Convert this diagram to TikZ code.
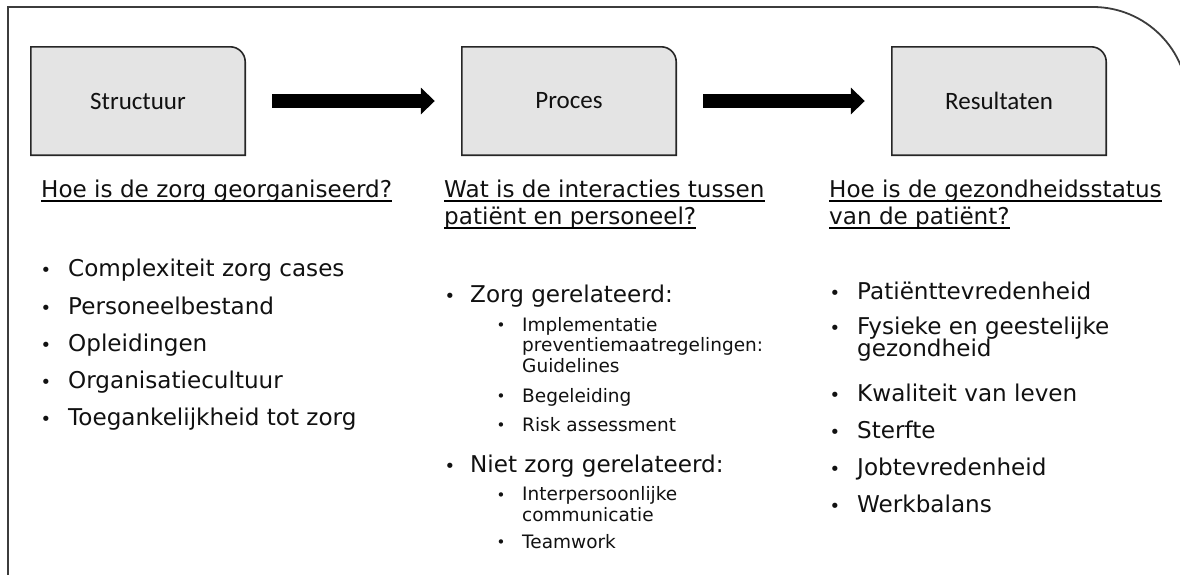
\documentclass[tikz,border=0pt]{standalone}
\usepackage{fontspec}
\setmainfont{DejaVu Sans}
\newfontfamily\boxfont{Carlito}
\usetikzlibrary{arrows.meta,backgrounds}
\definecolor{framegray}{HTML}{3C3C3C}
\definecolor{boxfill}{HTML}{E4E4E4}
\definecolor{txtcol}{HTML}{111111}
\newcommand\mytightlines{\setlength{\lineskiplimit}{-50pt}\setlength{\lineskip}{0pt}}
\newcommand\mainsize{\fontsize{23.1}{20}\selectfont\mytightlines}
\newcommand\mainwrap{\fontsize{23.1}{21.5}\selectfont\mytightlines}
\newcommand\subsize{\fontsize{18.5}{20.5}\selectfont\mytightlines}
\tikzset{
  stagebox/.style={inner sep=0pt, minimum width=214pt, minimum height=108pt,
    font=\boxfont\fontsize{25}{30}\selectfont, text=txtcol},
  stageshape/.style={fill=boxfill, draw=black!85, line width=1.6pt},
  bigarrow/.style={line width=14pt, -{Triangle[length=14pt,width=26pt]}, black},
  txt/.style={inner sep=0pt, anchor=base west, text=txtcol, align=left,
    font=\mainsize},
  subtxt/.style={txt, font=\subsize},
  bul/.style={inner sep=0pt, anchor=center, text=txtcol,
    font=\fontsize{18}{18}\selectfont},
  subbul/.style={bul, font=\fontsize{15}{15}\selectfont},
  uline/.style={line width=2pt, black},
  frame/.style={draw=framegray, line width=1.8pt}
}
\begin{document}
\begin{tikzpicture}[x=1pt,y=-1pt]
\useasboundingbox (0,0) rectangle (1180,574);
\begin{scope}
\clip (0,0) rectangle (1180,574);
\draw[frame] (8,580) -- (8,7) -- (1093,7) arc[start angle=90,end angle=0,radius=95pt] -- (1188,580);
\end{scope}

% stage boxes
\node[stagebox] (s) at (138,101) {Structuur};
\node[stagebox] (p) at (569,101) {Proces};
\node[stagebox] (r) at (999,101) {Resultaten};
\begin{scope}[on background layer]
\foreach \n in {s,p,r}
  \filldraw[stageshape] (\n.south west) -- (\n.north west) -- ([xshift=-15pt]\n.north east)
    arc[start angle=90,end angle=0,radius=15pt] -- (\n.south east) -- cycle;
\end{scope}

% arrows
\draw[bigarrow] ([xshift=27pt]s.east) -- ([xshift=-27pt]p.west);
\draw[bigarrow] ([xshift=27pt]p.east) -- ([xshift=-27pt]r.west);

% headings
\node[txt] (h1) at (41,197) {Hoe is de zorg georganiseerd?};
\node[txt] (m1) at (444,197) {Wat is de interacties tussen};
\node[txt] (m2) at (444,224) {patiënt en personeel?};
\node[txt] (r1) at (829,197) {Hoe is de gezondheidsstatus};
\node[txt] (r2) at (829,224) {van de patiënt?};
\foreach \h in {h1,m1,m2,r1,r2}
  \draw[uline] ([yshift=-4pt]\h.base west) -- ([yshift=-4pt]\h.base east);

% left column
\foreach \y/\t [count=\i] in {276/Complexiteit zorg cases, 314/Personeelbestand, 351/Opleidingen, 388/Organisatiecultuur, 425/Toegankelijkheid tot zorg}{
  \node[bul] (lb\i) at (46,\y-4.4) {•};
  \node[txt] (lt\i) at (68,\y) {\t};
}

% middle column (multi-line nodes are anchored on their last line)
\node[bul] (mb1) at (450,302-4.4) {•};
\node[txt] (mt1) at (470,302) {Zorg gerelateerd:};
\node[subbul] (ms1) at (501,331-4.6) {•};
\node[subtxt] (ma1) at (522,372) {Implementatie\\preventiemaatregelingen:\\Guidelines};
\node[subbul] (ms2) at (501,402-4.6) {•};
\node[subtxt] (ma4) at (522,402) {Begeleiding};
\node[subbul] (ms3) at (501,431-4.6) {•};
\node[subtxt] (ma5) at (522,431) {Risk assessment};
\node[bul] (mb2) at (450,472-4.4) {•};
\node[txt] (mt2) at (470,472) {Niet zorg gerelateerd:};
\node[subbul] (ms4) at (501,501-4.6) {•};
\node[subtxt] (ma6) at (522,521) {Interpersoonlijke\\communicatie};
\node[subbul] (ms5) at (501,548-4.6) {•};
\node[subtxt] (ma8) at (522,548) {Teamwork};

% right column
\node[bul] (rb1) at (835,299-4.4) {•};
\node[txt] (rt1) at (857,299) {Patiënttevredenheid};
\node[bul] (rb2) at (835,334.5-4.4) {•};
\node[txt, font=\mainwrap] (rt2) at (857,356) {Fysieke en geestelijke\\gezondheid};
\node[bul] (rb3) at (835,401-4.4) {•};
\node[txt] (rt3) at (857,401) {Kwaliteit van leven};
\node[bul] (rb4) at (835,438-4.4) {•};
\node[txt] (rt4) at (857,438) {Sterfte};
\node[bul] (rb5) at (835,475-4.4) {•};
\node[txt] (rt5) at (857,475) {Jobtevredenheid};
\node[bul] (rb6) at (835,512-4.4) {•};
\node[txt] (rt6) at (857,512) {Werkbalans};
\end{tikzpicture}
\end{document}
